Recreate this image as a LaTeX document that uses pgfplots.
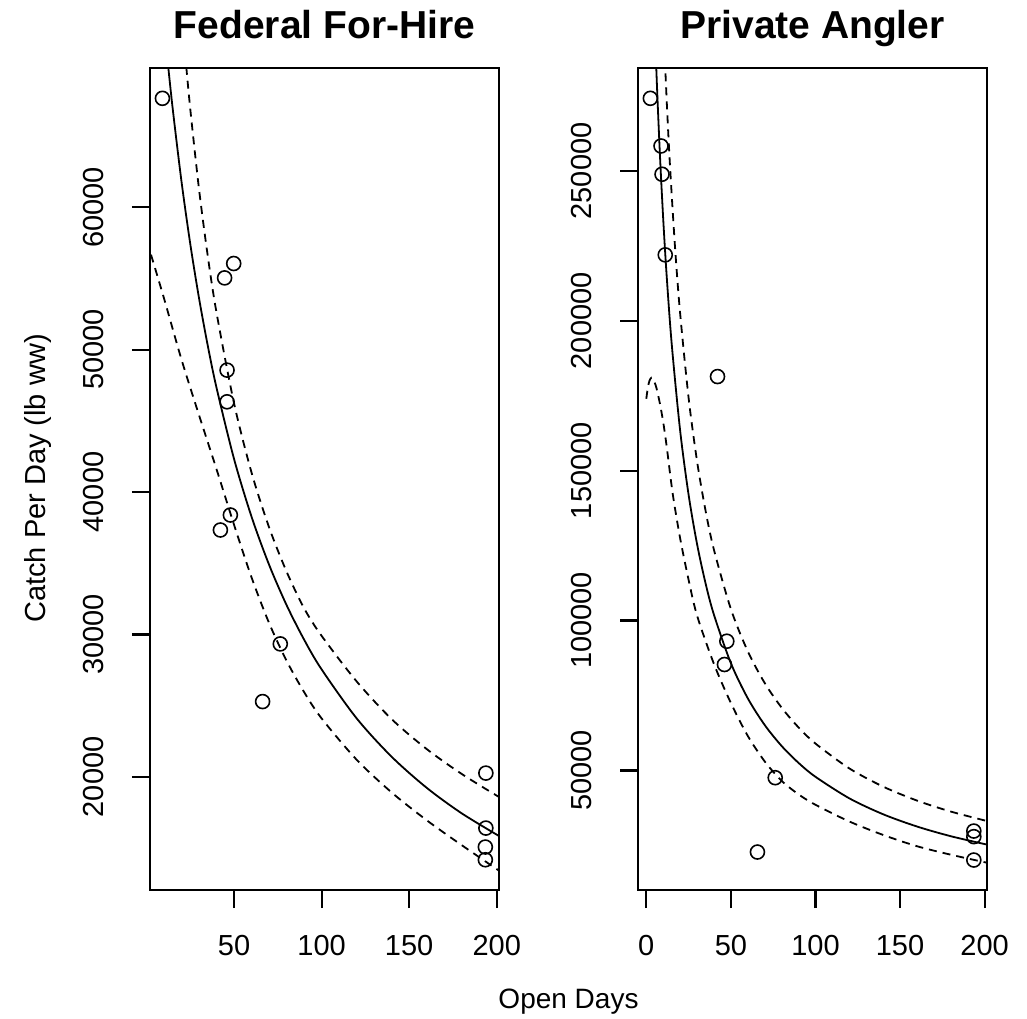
\documentclass[border=0pt]{standalone}
\usepackage{fontspec}
\setmainfont{Liberation Sans}
\usepackage{pgfplots}
\pgfplotsset{compat=1.18}

\pgfplotsset{
  rstyle/.style={
    scale only axis, width=174.5pt, height=411pt,
    anchor=south west,
    axis line style={line width=1.1pt, black},
    tick align=outside, tick pos=left,
    major tick length=9pt,
    every tick/.style={line width=1.1pt, black},
    scaled ticks=false,
    tick label style={font=\fontsize{14.5}{16}\selectfont},
    /pgf/number format/assume math mode=true,
    /pgf/number format/fixed,
    /pgf/number format/1000 sep={},
    yticklabel style={rotate=90, anchor=south, inner sep=0pt},
    xticklabel style={anchor=north, inner sep=0pt},
    xticklabel shift=13.5pt,
    yticklabel shift=14pt,
    clip=true,
  },
  ptsty/.style={only marks, mark=o, mark size=3.5pt, mark options={line width=0.8pt, black}},
  fitsty/.style={no marks, smooth, line width=0.9pt, black},
  cisty/.style={no marks, smooth, line width=0.9pt, black, dash pattern=on 4pt off 3pt},
}

\begin{document}
\begin{tikzpicture}[x=1pt,y=1pt]
\useasboundingbox (0,0) rectangle (513.5,509);

% ---------- Federal For-Hire ----------
\begin{axis}[rstyle, at={(75pt,64pt)},
  xmin=2.0, xmax=201.3, ymin=12050, ymax=69780,
  xtick={50,100,150,200}, ytick={20000,30000,40000,50000,60000}]
\addplot[ptsty] coordinates {
(9.1,67650) (49.8,56049) (44.6,55039) (46.0,48561) (46.0,46337)
(47.9,38386) (42.2,37333) (76.4,29333) (66.3,25284)
(193.8,20260) (193.8,16400) (193.5,15067) (193.5,14175)};
\addplot[fitsty] coordinates {
(8,75574) (10,72872) (12,70355) (15,66886) (20,61798) (25,57421) (30,53614)
(35,50273) (40,47318) (50,42321) (60,38260) (70,34893) (80,32057) (90,29634)
(100,27542) (120,24107) (140,21408) (160,19229) (180,17435) (202,15793)};
\addplot[cisty] coordinates {
(20,73784) (22,70854) (25,66898) (30,61263) (35,56566) (40,52590) (50,46228)
(60,41362) (70,37520) (80,34408) (90,31838) (100,29900) (120,26700) (140,24050)
(160,21950) (180,20200) (202,18530)};
\addplot[cisty] coordinates {
(0,57600) (2,56900) (10,53600) (20,49300) (30,45400) (40,41600) (50,37700)
(60,34000) (70,30800) (80,28150) (90,25950) (100,24100) (120,21200) (140,18900)
(160,16950) (180,15200) (202,13350)};
\end{axis}

% ---------- Private Angler ----------
\begin{axis}[rstyle, at={(319pt,64pt)},
  xmin=-4.9, xmax=201.4, ymin=10100, ymax=284350,
  xtick={0,50,100,150,200}, ytick={50000,100000,150000,200000,250000}]
\addplot[ptsty] coordinates {
(2.4,274233) (8.7,258333) (9.3,248900) (11.2,222000) (42.1,181400)
(47.6,93100) (46.2,85333) (76.2,47567) (65.7,22767)
(193.6,29767) (193.6,27900) (193.6,20100)};
\addplot[fitsty] coordinates {
(3,335387) (4,315831) (6,282846) (8,256099) (10,233974) (12,215368) (15,192415)
(20,163394) (25,141979) (30,125527) (35,112492) (40,101910) (50,85772)
(60,74046) (70,65143) (80,58148) (90,52511) (100,47870) (120,40686)
(140,35368) (160,31283) (180,28045) (202,25171)};
\addplot[cisty] coordinates {
(8,333900) (10,301070) (12,274200) (14,251800) (17,224420) (20,202500)
(25,174320) (30,153180) (35,136740) (40,123580) (50,103840) (60,89730)
(70,79150) (80,70930) (90,64340) (100,58960) (120,50670) (140,44590)
(160,39940) (180,36270) (202,33030)};
\addplot[cisty] coordinates {
(0,174000) (1,178000) (2,180200) (3,181000) (4,180600) (5,179300) (6,177600)
(8,172500) (10,166200) (12,158300) (14,149200) (16,140850) (20,127450)
(25,113580) (30,101680) (40,85500) (50,72500) (60,61500) (70,53000)
(80,46520) (90,42010) (100,38535) (120,32960) (140,28470) (160,24710)
(180,21875) (202,19130)};
\end{axis}

% ---------- titles and axis labels ----------
\node[anchor=base, font=\fontsize{19.5}{22}\selectfont\bfseries] at (162.25,489.5) {Federal For-Hire};
\node[anchor=base, font=\fontsize{19.5}{22}\selectfont\bfseries] at (406.25,489.5) {Private Angler};
\node[anchor=base, font=\fontsize{14}{16}\selectfont] at (284.25,5) {Open Days};
\node[anchor=base, rotate=90, font=\fontsize{14.5}{16}\selectfont] at (22.5,269.75) {Catch Per Day (lb ww)};
\end{tikzpicture}
\end{document}
